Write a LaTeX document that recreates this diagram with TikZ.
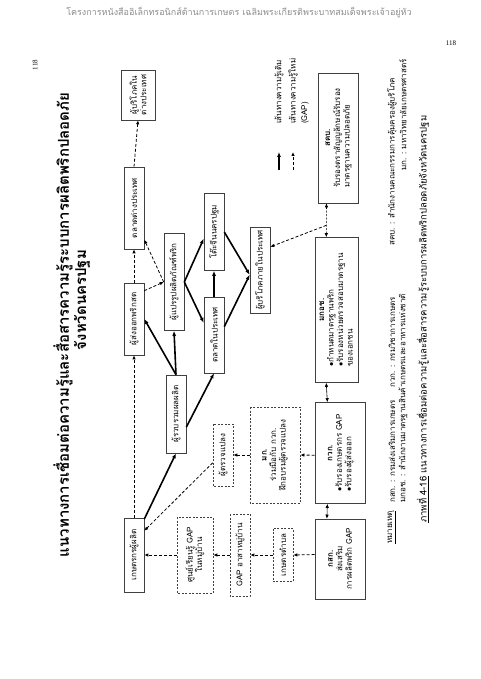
\documentclass[tikz,border=0pt]{standalone}
\usepackage{fontspec}
\setmainfont{Liberation Serif}
\newfontfamily\thai[Script=Thai]{Loma}
\usetikzlibrary{positioning, arrows.meta, calc}

\begin{document}
\begin{tikzpicture}[x=1pt, y=1pt,
    every node/.style={font=\thai\fontsize{8}{9.5}\selectfont, inner sep=1pt},
    box/.style={draw=black!75, fill=white, line width=0.6pt,
        minimum width=#1, minimum height=20, align=center},
    dbox/.style={box=#1, dash pattern=on 2pt off 1.5pt},
    arr/.style={-{Latex[length=5pt, width=4pt]}, line width=1.6pt},
    darr/.style={-{Latex[length=4pt, width=3.5pt]}, line width=0.8pt, dash pattern=on 3pt off 2pt},
    tarr/.style={{Latex[length=4pt, width=3.5pt]}-{Latex[length=4pt, width=3.5pt]}, line width=0.6pt},
    note/.style={anchor=west, font=\thai\fontsize{8}{9}\selectfont},
]
\useasboundingbox (0,0) rectangle (480,-679);

% page header
\node[font=\thai\fontsize{9}{11}\selectfont, text=black!45] (header) at (239,-13)
    {โครงการหนังสืออิเล็กทรอนิกส์ด้านการเกษตร เฉลิมพระเกียรติพระบาทสมเด็จพระเจ้าอยู่หัว};
\node[font=\rmfamily\fontsize{7}{8}\selectfont] (pnum) at (451,-43) {118};

% the figure is printed turned a quarter to the left
\begin{scope}[shift={(480,-679)}, rotate=90, transform shape]

\node[font=\rmfamily\fontsize{7}{8}\selectfont] (pnumr) at (614,445) {118};

% title
\node[font=\thai\bfseries\fontsize{15}{18}\selectfont] (title) at (354,417)
    {แนวทางการเชื่อมต่อความรู้และสื่อสารความรู้ระบบการผลิตพริกปลอดภัย};
\node[font=\thai\bfseries\fontsize{15}{18}\selectfont] (title2) at (379,398) {จังหวัดนครปฐม};

% supply chain
\node[box=74] (farmer) at (124,346) {เกษตรกรผู้ผลิต};
\node[box=72] (exporter) at (360,346) {ผู้ส่งออกพริกสด};
\node[box=82] (fmarket) at (471,346) {ตลาดต่างประเทศ};
\node[box=50, minimum height=34] (fgncons) at (584,342) {ผู้บริโภคใน\\ต่างประเทศ};
\node[box=78] (collector) at (265,304) {ผู้รวบรวมผลผลิต};
\node[box=97] (processor) at (397,306) {ผู้แปรรูปผลิตภัณฑ์พริก};
\node[box=76] (dmarket) at (344,266) {ตลาดในประเทศ};
\node[box=77] (banquet) at (447,266) {โต๊ะจีนนครปฐม};
\node[box=86] (dcons) at (409,220) {ผู้บริโภคภายในประเทศ};

% knowledge sources
\node[dbox=76, minimum height=36] (lcenter) at (124,285) {ศูนย์เรียนรู้ GAP\\ในหมู่บ้าน};
\node[dbox=82] (volunteer) at (124,240) {GAP อาสาหมู่บ้าน};
\node[dbox=53] (tambon) at (124,197) {เกษตรตำบล};
\node[dbox=62] (inspector) at (224,257) {ผู้ตรวจแปลง};
\node[dbox=96, minimum height=50] (mku) at (224,205)
    {\textbf{มก.}\\ร่วมมือกับ กวก.\\ฝึกอบรมผู้ตรวจแปลง};

% agencies
\node[box=80, minimum height=50] (doae) at (120,140)
    {\textbf{กสก.}\\ส่งเสริม\\การผลิตพริก GAP};
\node[box=101, minimum height=50] (doa) at (226,140)
    {\begin{tabular}{@{}l@{}}\multicolumn{1}{@{}c@{}}{\textbf{กวก.}}\\
     $\bullet$รับรองเกษตรกร GAP\\ $\bullet$รับรองผู้ส่งออก\end{tabular}};
\node[box=145, minimum height=43] (acfs) at (369,143.5)
    {\begin{tabular}{@{}l@{}}\multicolumn{1}{@{}c@{}}{\textbf{มกอช.}}\\
     $\bullet$กำหนดมาตรฐานพริก\\ $\bullet$รับรองหน่วยตรวจสอบมาตรฐาน\\ ของเอกชน\end{tabular}};
\node[box=130, minimum height=40] (ocpb) at (541,142)
    {\begin{tabular}{@{}l@{}}\multicolumn{1}{@{}c@{}}{\textbf{สคบ.}}\\
     รับรองตราสัญญลักษณ์รับรอง\\ มาตรฐานความปลอดภัย\end{tabular}};

% old knowledge paths
\draw[arr] (farmer.-16) -- (collector.west);
\draw[arr] (collector.east) -- (exporter.south);
\draw[arr] (collector.east) -- (processor.west);
\draw[arr] (collector.-142) -- (dmarket.west);
\draw[arr] (processor.south) -- (banquet.123);
\draw[arr] (processor.south) -- (dmarket.40);
\draw[arr] (dmarket.east) -- (banquet.west);
\draw[arr] (banquet.south) -- (dcons.115);
\draw[arr] (dmarket.-51) -- (dcons.115);

% new knowledge paths (GAP)
\draw[darr] (farmer.east) -- (exporter.west);
\draw[darr] (exporter.east) -- (fmarket.west);
\draw[darr] (fmarket.east) -- (fgncons.west);
\draw[darr] (exporter.-20) -- (processor.north);
\draw[darr] (processor.north) -- (fmarket.-162);
\draw[darr] (inspector.127) -- (farmer.-23);
\draw[darr] (lcenter.north) -- (farmer.south);
\draw[darr] (volunteer.north) -- (lcenter.south);
\draw[darr] (tambon.north) -- (volunteer.south);
\draw[darr] (doae.80) -- (tambon.south);
\draw[darr] (doa.95) -- (mku.south);
\draw[darr] (mku.north) -- (inspector.south);

% links between agencies
\draw[tarr] (doae.18) -- (doa.166);
\draw[tarr] (doa.14) -- (acfs.172);
\draw[tarr, dash pattern=on 2pt off 1.5pt] (acfs.8) -- (ocpb.170);
\coordinate (junc) at ($(acfs.8)!0.35!(ocpb.170)$);
\draw[darr] (junc) -- (dcons.-24);

% legend
\coordinate (lgold0) at (509,201);
\coordinate (lgold1) at (527,201);
\coordinate (lgnew0) at (509,187);
\coordinate (lgnew1) at (527,187);
\draw[arr] (lgold0) -- (lgold1);
\draw[darr] (lgnew0) -- (lgnew1);
\node[anchor=west] (lgoldtxt) at (554,201) {เส้นทางความรู้เดิม};
\node[anchor=west] (lgnewtxt) at (554,187) {เส้นทางความรู้ใหม่};
\node[anchor=west] (lggap) at (554,175) {(GAP)};

% notes and caption
\node[note] (n1a) at (134,88) {\underline{หมายเหตุ}};
\node[note] (n1b) at (175,88) {กสก. : กรมส่งเสริมการเกษตร};
\node[note] (n1c) at (290,88) {กวก. : กรมวิชาการเกษตร};
\node[note] (n1d) at (432,88) {สคบ. : สำนักงานคณะกรรมการคุ้มครองผู้บริโภค};
\node[note] (n2a) at (175,77) {มกอช. : สำนักงานมาตรฐานสินค้าเกษตรและอาหารแห่งชาติ};
\node[note] (n2b) at (507,77) {มก. : มหาวิทยาลัยเกษตรศาสตร์};
\node[note, font=\thai\fontsize{9.5}{10}\selectfont] (cap) at (155,57)
    {\underline{ภาพที่ 4-16} แนวทางการเชื่อมต่อความรู้และสื่อสารความรู้ระบบการผลิตพริกปลอดภัยจังหวัดนครปฐม};

\end{scope}
\end{tikzpicture}
\end{document}
